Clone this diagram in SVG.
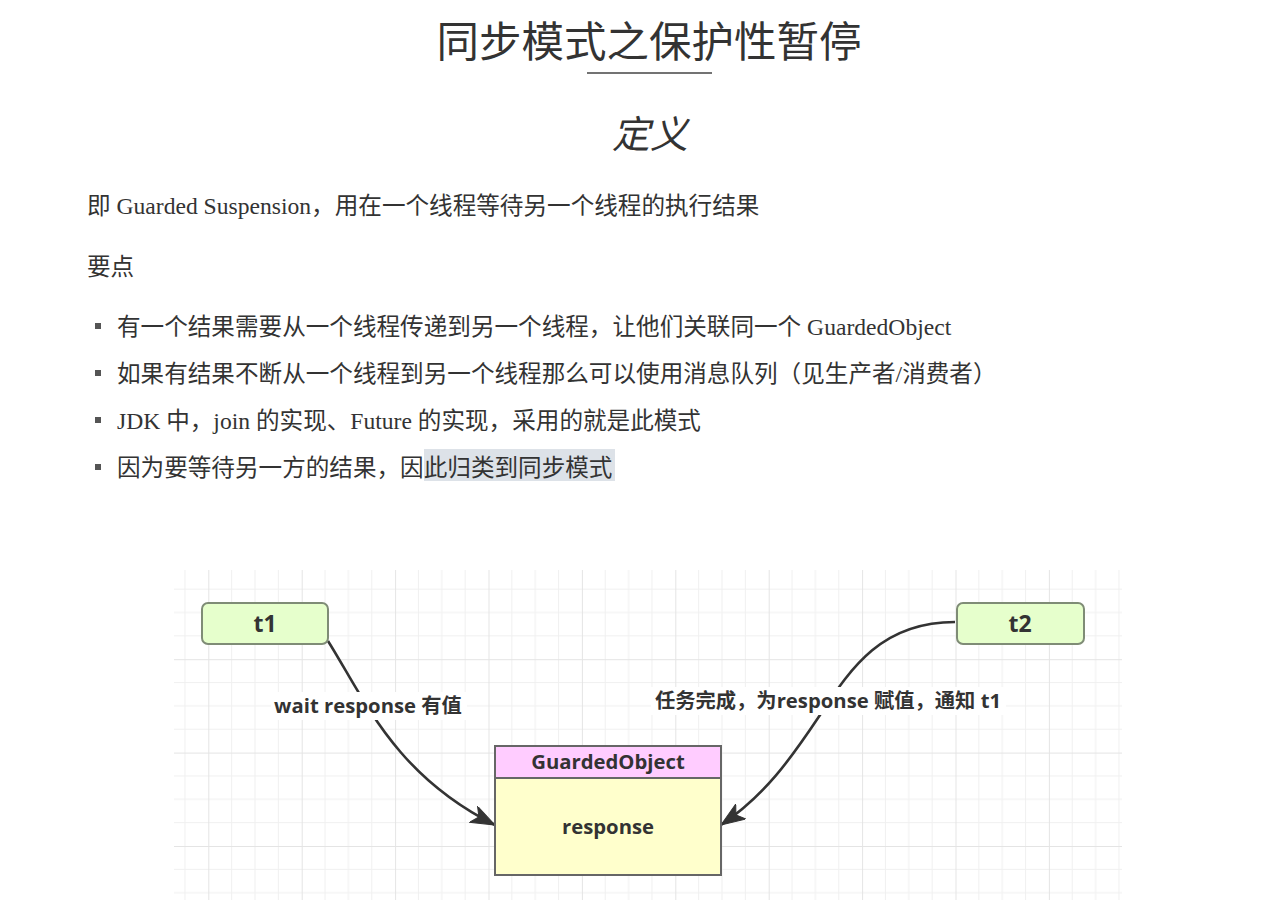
<svg xmlns="http://www.w3.org/2000/svg" width="1287" height="914" viewBox="0 0 1287 914">
<defs>
<style>
.doc{font-family:"Liberation Serif","Noto Sans CJK SC",serif;font-size:23.6px;fill:#333}
.title{font-family:"Noto Sans CJK SC",sans-serif;font-weight:normal;fill:#333}
.dg{font-family:"Open Sans","Noto Sans CJK SC",sans-serif;font-weight:bold;fill:#333;text-anchor:middle}
.node{fill:#e6ffcc;stroke:#7f8c76;stroke-width:2}
.edge{fill:none;stroke:#333;stroke-width:2.6}
.minor{stroke:#f0f0f0;stroke-width:1}
.major{stroke:#e4e4e4;stroke-width:1}
</style>
<pattern id="grid" patternUnits="userSpaceOnUse" x="208.3" y="565.8" width="93.4" height="93.4">
<line class="minor" x1="23.35" y1="0" x2="23.35" y2="93.4"/>
<line class="minor" x1="46.7" y1="0" x2="46.7" y2="93.4"/>
<line class="minor" x1="70.05" y1="0" x2="70.05" y2="93.4"/>
<line class="minor" x1="0" y1="23.35" x2="93.4" y2="23.35"/>
<line class="minor" x1="0" y1="46.7" x2="93.4" y2="46.7"/>
<line class="minor" x1="0" y1="70.05" x2="93.4" y2="70.05"/>
<line class="major" x1="0.5" y1="0" x2="0.5" y2="93.4"/>
<line class="major" x1="0" y1="0.5" x2="93.4" y2="0.5"/>
</pattern>
<marker id="arrow" markerUnits="userSpaceOnUse" markerWidth="26" markerHeight="20" refX="24" refY="9" orient="auto" viewBox="0 0 26 20">
<path d="M0,0 L24,9 L0,18 L6,9 z" fill="#333" stroke="#333" stroke-width="1"/>
</marker>
</defs>
<rect width="1287" height="914" fill="#ffffff"/>

<g id="document">
<text class="title" x="649" y="57" font-size="42.5" text-anchor="middle">同步模式之保护性暂停</text>
<line x1="587" y1="73" x2="712" y2="73" stroke="#444" stroke-width="1.5"/>
<text class="title" x="650" y="148" font-size="38" font-style="italic" text-anchor="middle">定义</text>
<text class="doc" x="87" y="214">即 Guarded Suspension，用在一个线程等待另一个线程的执行结果</text>
<text class="doc" x="87" y="275">要点</text>
<g fill="#555">
<rect x="95" y="323" width="6" height="6"/>
<rect x="95" y="370" width="6" height="6"/>
<rect x="95" y="417" width="6" height="6"/>
<rect x="95" y="464" width="6" height="6"/>
</g>
<rect x="424" y="449" width="191" height="32" fill="#dde2e8"/>
<text class="doc" x="117" y="335">有一个结果需要从一个线程传递到另一个线程，让他们关联同一个 GuardedObject</text>
<text class="doc" x="117" y="382">如果有结果不断从一个线程到另一个线程那么可以使用消息队列（见生产者/消费者）</text>
<text class="doc" x="117" y="429">JDK 中，join 的实现、Future 的实现，采用的就是此模式</text>
<text class="doc" x="117" y="476">因为要等待另一方的结果，因此归类到同步模式</text>
</g>

<rect id="grid-bg" x="174" y="570" width="948" height="330" fill="url(#grid)"/>

<g id="connectors">
<path class="edge" d="M328,641 C365,700 395,775 495,825" marker-end="url(#arrow)"/>
<path class="edge" d="M955,622 C880,622 850,670 820,715 C790,760 765,795 721,825" marker-end="url(#arrow)"/>
<rect x="271" y="692" width="196" height="28" fill="#ffffff"/>
<text class="dg" x="368" y="713" font-size="20.3">wait response 有值</text>
<rect x="651" y="687" width="355" height="28" fill="#ffffff"/>
<text class="dg" x="828" y="708" font-size="20.3">任务完成，为response 赋值，通知 t1</text>
</g>

<g id="t1">
<rect class="node" x="202" y="603" width="126" height="41" rx="6"/>
<text class="dg" x="265" y="632" font-size="23">t1</text>
</g>
<g id="t2">
<rect class="node" x="957" y="603" width="127" height="41" rx="6"/>
<text class="dg" x="1020" y="632" font-size="23">t2</text>
</g>
<g id="GuardedObject">
<rect x="495" y="746" width="226" height="32" fill="#ffccff" stroke="#666" stroke-width="2"/>
<rect x="495" y="778" width="226" height="97" fill="#ffffcc" stroke="#666" stroke-width="2"/>
<text class="dg" x="608" y="769" font-size="20.3">GuardedObject</text>
<text class="dg" x="608" y="834" font-size="20.3">response</text>
</g>
</svg>
